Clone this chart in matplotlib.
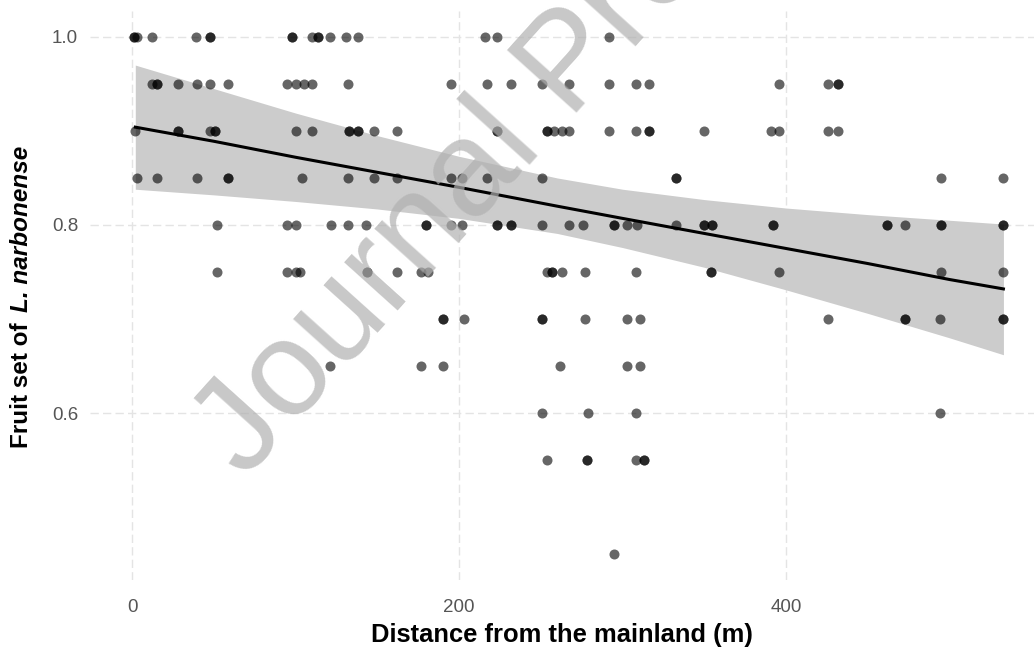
import matplotlib.pyplot as plt
import numpy as np

plt.rcParams['font.family'] = ['Liberation Sans', 'DejaVu Sans']

# distance from the mainland (m) of each point, one list per fruit set level
dist_100 = [1, 1, 3, 12, 39, 48, 48, 98, 98, 110, 114, 114, 121, 131, 138, 216, 223, 292]
dist_095 = [12, 15, 15, 28, 40, 48, 59, 95, 100, 105, 110, 132, 195, 217, 232, 251, 267,
            292, 308, 316, 396, 426, 432, 432]
dist_090 = [2, 28, 28, 48, 51, 51, 100, 110, 133, 133, 138, 138, 148, 162, 223, 223, 254, 254,
            258, 263, 267, 292, 308, 316, 316, 350, 391, 396, 426, 432]
dist_085 = [3, 15, 40, 59, 59, 104, 132, 148, 162, 195, 202, 217, 251, 333, 333, 495, 533]
dist_080 = [52, 95, 100, 122, 132, 143, 180, 180, 195, 202, 223, 223, 232, 232, 251, 267, 276,
            295, 295, 303, 309, 333, 350, 350, 355, 355, 392, 392, 462, 462, 473, 495, 495, 533, 533]
dist_075 = [52, 95, 100, 103, 144, 144, 162, 177, 181, 254, 257, 257, 263, 277, 308, 354, 354,
            396, 495, 533]
dist_070 = [190, 190, 203, 251, 251, 277, 303, 311, 426, 473, 473, 494, 533, 533]
dist_065 = [121, 177, 190, 262, 303, 311]
dist_060 = [251, 279, 308, 494]
dist_055 = [254, 278, 278, 308, 313, 313]
dist_045 = [295]

levels = [1.0, 0.95, 0.9, 0.85, 0.8, 0.75, 0.7, 0.65, 0.6, 0.55, 0.45]
rows = [dist_100, dist_095, dist_090, dist_085, dist_080, dist_075,
        dist_070, dist_065, dist_060, dist_055, dist_045]

distance = np.concatenate(rows)
fruit_set = np.concatenate([[lv] * len(r) for lv, r in zip(levels, rows)])

# linear fit and its confidence band
fit_x = [2, 50, 100, 150, 200, 260, 300, 350, 400, 450, 500, 533]
fit_y = [0.904, 0.889, 0.872, 0.856, 0.840, 0.820, 0.807, 0.791, 0.775, 0.759, 0.742, 0.732]
band_lo = [0.838, 0.832, 0.825, 0.817, 0.807, 0.791, 0.776, 0.755, 0.731, 0.706, 0.680, 0.662]
band_hi = [0.970, 0.945, 0.919, 0.895, 0.873, 0.850, 0.838, 0.827, 0.818, 0.811, 0.805, 0.801]

W, H = 1034, 653
fig = plt.figure(figsize=(W / 100, H / 100), dpi=100)
ax = fig.add_axes([90 / W, 73 / H, 944 / W, 569 / H])

ax.fill_between(fit_x, band_lo, band_hi, color='#cccccc', lw=0, zorder=1)
ax.scatter(distance, fruit_set, s=52, c='black', alpha=0.6, lw=0, zorder=2)
ax.plot(fit_x, fit_y, color='black', lw=2.2, zorder=3)

ax.set_xlim(-25.7, 551.7)
ax.set_ylim(0.4225, 1.0275)
ax.set_xticks([0, 200, 400])
ax.set_yticks([0.6, 0.8, 1.0])
ax.set_yticklabels(['0.6', '0.8', '1.0'])
ax.grid(True, color='#e4e4e4', lw=1, ls=(0, (6, 3)))
ax.set_axisbelow(True)
for sp in ax.spines.values():
    sp.set_visible(False)
ax.tick_params(length=0, labelsize=13.5, labelcolor='#555555')
ax.tick_params(axis='x', pad=14)
ax.tick_params(axis='y', pad=8.5)

ax.set_xlabel('Distance from the mainland (m)', fontsize=18.4, fontweight='bold', labelpad=5)

# y label: plain bold part + bold italic species name
fig.canvas.draw()
t1 = fig.text(22 / W, (H - 448) / H, 'Fruit set of ', rotation=90, rotation_mode='anchor',
              ha='left', va='center', fontsize=17.5, fontweight='bold')
fig.canvas.draw()
bb = t1.get_window_extent()
fig.text(22 / W, (bb.y1 + 4) / H, 'L. narbonense', rotation=90, rotation_mode='anchor',
         ha='left', va='center', fontsize=17.5, fontweight='bold', fontstyle='italic')

# watermark
fig.text(245 / W, (H - 480) / H, 'Journal Pre-proof', rotation=48, rotation_mode='anchor',
         ha='left', va='baseline', fontsize=98, color='#b0b0b0', alpha=0.7, zorder=10)

fig.savefig('out.png', dpi=100)
